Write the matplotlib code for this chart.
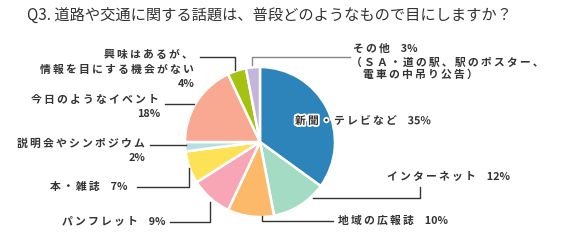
import matplotlib
matplotlib.use("Agg")
import matplotlib.pyplot as plt
import matplotlib.patheffects as pe

plt.rcParams['font.family'] = ['Noto Sans CJK JP', 'DejaVu Sans']

title = "Q3. 道路や交通に関する話題は、普段どのようなもので目にしますか？"
categories = ["新聞・テレビなど", "インターネット", "地域の広報誌", "パンフレット", "本・雑誌",
              "説明会やシンポジウム", "今日のようなイベント",
              "興味はあるが、情報を目にする機会がない", "その他"]
values = [35, 12, 10, 9, 7, 2, 18, 4, 3]
colors = ["#2c84ba", "#a3dbc4", "#fcb96a", "#f8a6b6", "#fde157",
          "#b9dde2", "#f9a891", "#a6c10f", "#c3b5db"]

H = 240  # figure height in px, used to flip pixel y


def py(y):
    return H - y


def sp(s):
    # a little letter spacing, like the original
    return "\u2009".join(s)


fig = plt.figure(figsize=(5.8, 2.4), dpi=100)
ax = fig.add_axes([0, 0, 1, 1])
ax.set_xlim(0, 580)
ax.set_ylim(0, H)
ax.set_aspect('equal')
ax.axis('off')

ax.pie(values, colors=colors, startangle=90, counterclock=False,
       center=(260, py(142)), radius=75, frame=True,
       wedgeprops=dict(edgecolor='white', linewidth=1.8))
ax.set_xlim(0, 580)
ax.set_ylim(0, H)
ax.axis('off')

fig.text(27 / 580, 1 - 15 / H, title, fontsize=11, color='#333333',
         ha='left', va='center')

tc = '#333333'
fs = 7.8
kw = dict(fontsize=fs, color=tc, fontweight='bold', va='center')


def leader(xs, ys, color='#333333'):
    ax.plot(xs, [py(y) for y in ys], color=color, lw=1)


# 新聞・テレビなど (inside, white halo)
ax.text(295, py(121), sp(categories[0]) + "　35%", ha='left',
        path_effects=[pe.withStroke(linewidth=2.5, foreground='white')], **kw)

# インターネット
ax.text(387, py(177), sp(categories[1]) + "　12%", ha='left', **kw)
leader([313, 420, 420], [198, 198, 187])

# 地域の広報誌
ax.text(338, py(221), sp(categories[2]) + "　10%", ha='left', **kw)
leader([262, 262, 333], [216, 221, 221])

# パンフレット
ax.text(166, py(222), sp(categories[3]) + "　9%", ha='right', **kw)
leader([170, 210, 210], [222, 222, 202])

# 本・雑誌
ax.text(128, py(187), sp(categories[4]) + "　7%", ha='right', **kw)
leader([137, 189, 189], [187, 187, 168])

# 説明会やシンポジウム
ax.text(145, py(144), sp(categories[5]), ha='right', **kw)
ax.text(145, py(158), "2%", ha='right', **kw)
leader([150, 186], [145, 145])

# 今日のようなイベント
ax.text(159, py(100), sp(categories[6]), ha='right', **kw)
ax.text(160, py(114), "18%", ha='right', **kw)
leader([165, 194], [104, 104])

# 興味はあるが、情報を目にする機会がない
ax.text(193, py(55), sp("興味はあるが、"), ha='right', **kw)
ax.text(194, py(70), sp("情報を目にする機会がない"), ha='right', **kw)
ax.text(195, py(84), "4%", ha='right', **kw)
leader([200, 235, 235], [57, 57, 70])

# その他
ax.text(353, py(49), sp(categories[8]) + "　3%", ha='left', **kw)
ax.text(351, py(63), sp("（ＳＡ・道の駅、駅のポスター、"), ha='left', **kw)
ax.text(363, py(75), sp("電車の中吊り公告）"), ha='left', **kw)
leader([252, 252, 350], [65, 57, 57], color='#888888')

fig.savefig("out.png", dpi=100)
